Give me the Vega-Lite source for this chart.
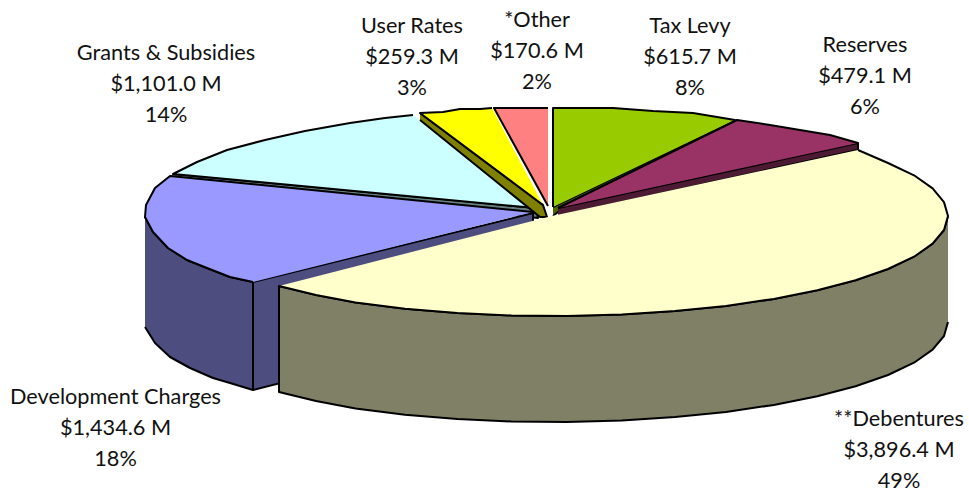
{"$schema":"https://vega.github.io/schema/vega-lite/v6.json","width":969,"height":494,"padding":0,"autosize":{"type":"fit","contains":"padding"},"background":"white","view":{"stroke":null},
"layer":[
{"data":{"values":[
{"part":"a_cyan_wall","i":0,"x":173,"y":174},{"part":"a_cyan_wall","i":1,"x":536,"y":208},{"part":"a_cyan_wall","i":2,"x":538,"y":218},{"part":"a_cyan_wall","i":3,"x":170,"y":177},
{"part":"b_cyan_top","i":0,"x":535,"y":208},{"part":"b_cyan_top","i":1,"x":173,"y":174},{"part":"b_cyan_top","i":2,"x":197,"y":162},{"part":"b_cyan_top","i":3,"x":227,"y":150},{"part":"b_cyan_top","i":4,"x":265,"y":140},{"part":"b_cyan_top","i":5,"x":305,"y":131},{"part":"b_cyan_top","i":6,"x":350,"y":123},{"part":"b_cyan_top","i":7,"x":385,"y":118},{"part":"b_cyan_top","i":8,"x":413,"y":115},
{"part":"c_yellow_wall","i":0,"x":420,"y":113},{"part":"c_yellow_wall","i":1,"x":543,"y":205},{"part":"c_yellow_wall","i":2,"x":547,"y":217},{"part":"c_yellow_wall","i":3,"x":540,"y":217},{"part":"c_yellow_wall","i":4,"x":420,"y":120},
{"part":"d_yellow_top","i":0,"x":543,"y":205},{"part":"d_yellow_top","i":1,"x":420,"y":113},{"part":"d_yellow_top","i":2,"x":443,"y":112},{"part":"d_yellow_top","i":3,"x":460,"y":109},{"part":"d_yellow_top","i":4,"x":480,"y":109},{"part":"d_yellow_top","i":5,"x":492,"y":108},
{"part":"e_pink_top","i":0,"x":548,"y":206},{"part":"e_pink_top","i":1,"x":494,"y":108},{"part":"e_pink_top","i":2,"x":548,"y":108},
{"part":"f_green_wall","i":0,"x":553,"y":207},{"part":"f_green_wall","i":1,"x":735,"y":120},{"part":"f_green_wall","i":2,"x":735,"y":123},{"part":"f_green_wall","i":3,"x":558,"y":212},{"part":"f_green_wall","i":4,"x":553,"y":216},
{"part":"g_green_top","i":0,"x":553,"y":207},{"part":"g_green_top","i":1,"x":553,"y":108},{"part":"g_green_top","i":2,"x":613,"y":108},{"part":"g_green_top","i":3,"x":653,"y":111},{"part":"g_green_top","i":4,"x":693,"y":113},{"part":"g_green_top","i":5,"x":735,"y":120},
{"part":"h_plum_wall","i":0,"x":558,"y":208},{"part":"h_plum_wall","i":1,"x":858,"y":143},{"part":"h_plum_wall","i":2,"x":858,"y":150},{"part":"h_plum_wall","i":3,"x":558,"y":216},
{"part":"i_plum_top","i":0,"x":558,"y":208},{"part":"i_plum_top","i":1,"x":737,"y":120},{"part":"i_plum_top","i":2,"x":770,"y":125},{"part":"i_plum_top","i":3,"x":800,"y":130},{"part":"i_plum_top","i":4,"x":830,"y":135},{"part":"i_plum_top","i":5,"x":858,"y":143},
{"part":"j_dev_inner","i":0,"x":253,"y":282},{"part":"j_dev_inner","i":1,"x":533,"y":213},{"part":"j_dev_inner","i":2,"x":533,"y":319},{"part":"j_dev_inner","i":3,"x":253,"y":390},
{"part":"k_dev_outer","i":0,"x":145,"y":217},{"part":"k_dev_outer","i":1,"x":153,"y":232},{"part":"k_dev_outer","i":2,"x":168,"y":248},{"part":"k_dev_outer","i":3,"x":187,"y":260},{"part":"k_dev_outer","i":4,"x":207,"y":268},{"part":"k_dev_outer","i":5,"x":230,"y":277},{"part":"k_dev_outer","i":6,"x":253,"y":282},{"part":"k_dev_outer","i":7,"x":253,"y":390},{"part":"k_dev_outer","i":8,"x":230,"y":383},{"part":"k_dev_outer","i":9,"x":213,"y":378},{"part":"k_dev_outer","i":10,"x":190,"y":368},{"part":"k_dev_outer","i":11,"x":170,"y":357},{"part":"k_dev_outer","i":12,"x":155,"y":343},{"part":"k_dev_outer","i":13,"x":145,"y":327},
{"part":"l_dev_top","i":0,"x":533,"y":212},{"part":"l_dev_top","i":1,"x":170,"y":176},{"part":"l_dev_top","i":2,"x":155,"y":188},{"part":"l_dev_top","i":3,"x":146,"y":205},{"part":"l_dev_top","i":4,"x":145,"y":217},{"part":"l_dev_top","i":5,"x":153,"y":232},{"part":"l_dev_top","i":6,"x":168,"y":248},{"part":"l_dev_top","i":7,"x":187,"y":260},{"part":"l_dev_top","i":8,"x":207,"y":268},{"part":"l_dev_top","i":9,"x":230,"y":277},{"part":"l_dev_top","i":10,"x":253,"y":282},
{"part":"m_deb_wall","i":0,"x":948,"y":216},{"part":"m_deb_wall","i":1,"x":944,"y":230},{"part":"m_deb_wall","i":2,"x":932.6,"y":243.6},{"part":"m_deb_wall","i":3,"x":914,"y":256.7},{"part":"m_deb_wall","i":4,"x":888,"y":269},{"part":"m_deb_wall","i":5,"x":855.6,"y":280.3},{"part":"m_deb_wall","i":6,"x":817.3,"y":290.3},{"part":"m_deb_wall","i":7,"x":773.8,"y":298.9},{"part":"m_deb_wall","i":8,"x":726,"y":305.9},{"part":"m_deb_wall","i":9,"x":675,"y":311.1},{"part":"m_deb_wall","i":10,"x":621.7,"y":314.5},{"part":"m_deb_wall","i":11,"x":566.8,"y":315.9},{"part":"m_deb_wall","i":12,"x":511.5,"y":315.5},{"part":"m_deb_wall","i":13,"x":457.4,"y":313},{"part":"m_deb_wall","i":14,"x":405,"y":308.7},{"part":"m_deb_wall","i":15,"x":355.5,"y":302.6},{"part":"m_deb_wall","i":16,"x":316,"y":295},{"part":"m_deb_wall","i":17,"x":279,"y":286},{"part":"m_deb_wall","i":18,"x":279,"y":392},{"part":"m_deb_wall","i":19,"x":316,"y":401},{"part":"m_deb_wall","i":20,"x":355.5,"y":408.6},{"part":"m_deb_wall","i":21,"x":405,"y":414.7},{"part":"m_deb_wall","i":22,"x":457.4,"y":419},{"part":"m_deb_wall","i":23,"x":511.5,"y":421.5},{"part":"m_deb_wall","i":24,"x":566.8,"y":421.9},{"part":"m_deb_wall","i":25,"x":621.7,"y":420.5},{"part":"m_deb_wall","i":26,"x":675,"y":417.1},{"part":"m_deb_wall","i":27,"x":726,"y":411.9},{"part":"m_deb_wall","i":28,"x":773.8,"y":404.9},{"part":"m_deb_wall","i":29,"x":817.3,"y":396.3},{"part":"m_deb_wall","i":30,"x":855.6,"y":386.3},{"part":"m_deb_wall","i":31,"x":888,"y":375},{"part":"m_deb_wall","i":32,"x":914,"y":362.7},{"part":"m_deb_wall","i":33,"x":932.6,"y":349.6},{"part":"m_deb_wall","i":34,"x":944,"y":336},{"part":"m_deb_wall","i":35,"x":948,"y":322},
{"part":"n_deb_top","i":0,"x":552,"y":216},{"part":"n_deb_top","i":1,"x":858,"y":150},{"part":"n_deb_top","i":2,"x":888,"y":163},{"part":"n_deb_top","i":3,"x":914,"y":175.3},{"part":"n_deb_top","i":4,"x":932.6,"y":188.4},{"part":"n_deb_top","i":5,"x":944,"y":202.1},{"part":"n_deb_top","i":6,"x":948,"y":216},{"part":"n_deb_top","i":7,"x":944,"y":230},{"part":"n_deb_top","i":8,"x":932.6,"y":243.6},{"part":"n_deb_top","i":9,"x":914,"y":256.7},{"part":"n_deb_top","i":10,"x":888,"y":269},{"part":"n_deb_top","i":11,"x":855.6,"y":280.3},{"part":"n_deb_top","i":12,"x":817.3,"y":290.3},{"part":"n_deb_top","i":13,"x":773.8,"y":298.9},{"part":"n_deb_top","i":14,"x":726,"y":305.9},{"part":"n_deb_top","i":15,"x":675,"y":311.1},{"part":"n_deb_top","i":16,"x":621.7,"y":314.5},{"part":"n_deb_top","i":17,"x":566.8,"y":315.9},{"part":"n_deb_top","i":18,"x":511.5,"y":315.5},{"part":"n_deb_top","i":19,"x":457.4,"y":313},{"part":"n_deb_top","i":20,"x":405,"y":308.7},{"part":"n_deb_top","i":21,"x":355.5,"y":302.6},{"part":"n_deb_top","i":22,"x":316,"y":295},{"part":"n_deb_top","i":23,"x":279,"y":286},
{"part":"o_deb_arc","i":0,"x":858,"y":150},{"part":"o_deb_arc","i":1,"x":888,"y":163},{"part":"o_deb_arc","i":2,"x":914,"y":175.3},{"part":"o_deb_arc","i":3,"x":932.6,"y":188.4},{"part":"o_deb_arc","i":4,"x":944,"y":202.1},{"part":"o_deb_arc","i":5,"x":948,"y":216},{"part":"o_deb_arc","i":6,"x":944,"y":230},{"part":"o_deb_arc","i":7,"x":932.6,"y":243.6},{"part":"o_deb_arc","i":8,"x":914,"y":256.7},{"part":"o_deb_arc","i":9,"x":888,"y":269},{"part":"o_deb_arc","i":10,"x":855.6,"y":280.3},{"part":"o_deb_arc","i":11,"x":817.3,"y":290.3},{"part":"o_deb_arc","i":12,"x":773.8,"y":298.9},{"part":"o_deb_arc","i":13,"x":726,"y":305.9},{"part":"o_deb_arc","i":14,"x":675,"y":311.1},{"part":"o_deb_arc","i":15,"x":621.7,"y":314.5},{"part":"o_deb_arc","i":16,"x":566.8,"y":315.9},{"part":"o_deb_arc","i":17,"x":511.5,"y":315.5},{"part":"o_deb_arc","i":18,"x":457.4,"y":313},{"part":"o_deb_arc","i":19,"x":405,"y":308.7},{"part":"o_deb_arc","i":20,"x":355.5,"y":302.6},{"part":"o_deb_arc","i":21,"x":316,"y":295},{"part":"o_deb_arc","i":22,"x":279,"y":286}
]},
"mark":{"type":"line","strokeWidth":2,"strokeJoin":"round","clip":false},
"encoding":{
"x":{"field":"x","type":"quantitative","scale":{"domain":[0,969],"nice":false,"zero":false},"axis":null},
"y":{"field":"y","type":"quantitative","scale":{"domain":[494,0],"nice":false,"zero":false},"axis":null},
"order":{"field":"i","type":"quantitative"},
"detail":{"field":"part"},
"fill":{"field":"part","type":"nominal","legend":null,"sort":null,"scale":{"domain":["a_cyan_wall","b_cyan_top","c_yellow_wall","d_yellow_top","e_pink_top","f_green_wall","g_green_top","h_plum_wall","i_plum_top","j_dev_inner","k_dev_outer","l_dev_top","m_deb_wall","n_deb_top","o_deb_arc"],"range":["#668080","#CCFFFF","#808000","#FFFF00","#FF8080","#4D6600","#99CC00","#4D1A33","#993366","#4D4D80","#4D4D80","#9999FF","#808066","#FFFFCC","transparent"]}},
"stroke":{"field":"part","type":"nominal","legend":null,"sort":null,"scale":{"domain":["a_cyan_wall","b_cyan_top","c_yellow_wall","d_yellow_top","e_pink_top","f_green_wall","g_green_top","h_plum_wall","i_plum_top","j_dev_inner","k_dev_outer","l_dev_top","m_deb_wall","n_deb_top","o_deb_arc"],"range":["#000000","#000000","#000000","#000000","#000000","#000000","#000000","#000000","#000000","#000000","#000000","#000000","#000000","transparent","#000000"]}}
}},
{"data":{"values":[
{"lines":["Grants & Subsidies","$1,101.0 M","14%"],"x":166,"y":60},
{"lines":["User Rates","$259.3 M","3%"],"x":412,"y":33},
{"lines":["*Other","$170.6 M","2%"],"x":537,"y":27},
{"lines":["Tax Levy","$615.7 M","8%"],"x":690,"y":33},
{"lines":["Reserves","$479.1 M","6%"],"x":865,"y":52},
{"lines":["Development Charges","$1,434.6 M","18%"],"x":115.5,"y":404},
{"lines":["**Debentures","$3,896.4 M","49%"],"x":899,"y":426}
]},
"mark":{"type":"text","font":"Lato","fontSize":21.7,"lineHeight":31,"align":"center","baseline":"alphabetic","color":"#111111"},
"encoding":{
"x":{"field":"x","type":"quantitative"},
"y":{"field":"y","type":"quantitative"},
"text":{"field":"lines"}
}}
]}
